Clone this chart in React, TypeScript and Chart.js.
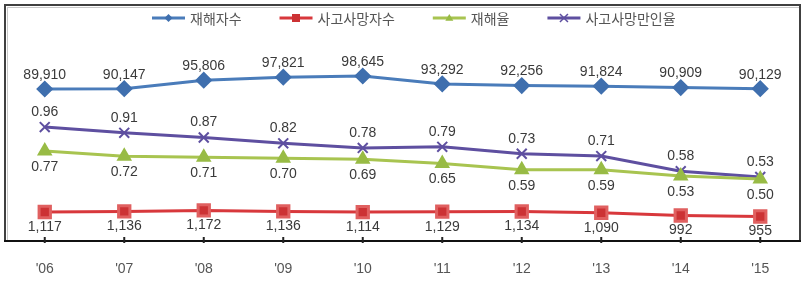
import React, { useEffect, useRef } from "react";
import { Chart, registerables } from "chart.js";

Chart.register(...registerables);

const categories = ["'06", "'07", "'08", "'09", "'10", "'11", "'12", "'13", "'14", "'15"];
const injuredCount = [89910, 90147, 95806, 97821, 98645, 93292, 92256, 91824, 90909, 90129];
const fatalCount = [1117, 1136, 1172, 1136, 1114, 1129, 1134, 1090, 992, 955];
const injuryRate = [0.77, 0.72, 0.71, 0.70, 0.69, 0.65, 0.59, 0.59, 0.53, 0.50];
const fatalRate = [0.96, 0.91, 0.87, 0.82, 0.78, 0.79, 0.73, 0.71, 0.58, 0.53];

const seriesNames = ["재해자수", "사고사망자수", "재해율", "사고사망만인율"];

const numFont = "14px 'Liberation Sans', Arial, sans-serif";
const legendFont = "14px 'Noto Sans CJK KR', sans-serif";

const fmt = (v: number, dec: number) =>
  v.toLocaleString("en-US", { minimumFractionDigits: dec, maximumFractionDigits: dec });

const labelPlugin = {
  id: "labels",
  afterDatasetsDraw(chart: any) {
    const ctx = chart.ctx;
    ctx.save();
    ctx.font = numFont;
    ctx.fillStyle = "#3a3a3a";
    ctx.textAlign = "center";
    ctx.textBaseline = "middle";
    chart.data.datasets.forEach((ds: any, i: number) => {
      const meta = chart.getDatasetMeta(i);
      meta.data.forEach((pt: any, j: number) => {
        const v = ds.data[j];
        const off = ds.labelOffset;
        ctx.fillText(fmt(v, ds.decimals), pt.x, pt.y + off);
      });
    });
    ctx.restore();
  },
};

const framePlugin = {
  id: "frame",
  beforeDatasetsDraw(chart: any) {
    const { ctx, chartArea } = chart;
    const { left, top, right, bottom } = chartArea;
    ctx.save();
    ctx.strokeStyle = "#c8c8c8";
    ctx.lineWidth = 1;
    ctx.strokeRect(left + 2.5, top + 2.5, right - left - 3, bottom - top - 3);
    ctx.strokeStyle = "#404040";
    ctx.lineWidth = 2;
    ctx.strokeRect(left, top, right - left, bottom - top);
    ctx.beginPath();
    ctx.moveTo(left - 1, bottom);
    ctx.lineTo(right + 1, bottom);
    ctx.strokeStyle = "#111";
    ctx.lineWidth = 2;
    ctx.stroke();
    const xs = chart.scales.x;
    ctx.strokeStyle = "#222";
    ctx.lineWidth = 2;
    categories.forEach((_, i) => {
      const x = xs.getPixelForValue(i);
      ctx.beginPath();
      ctx.moveTo(x, bottom - 4);
      ctx.lineTo(x, bottom + 2);
      ctx.stroke();
    });
    ctx.restore();
  },
};

const legendPlugin = {
  id: "customLegend",
  afterDraw(chart: any) {
    const ctx = chart.ctx;
    ctx.save();
    ctx.font = legendFont;
    const lineLen = 33;
    const gapText = 5;
    const gapItem = 38;
    const y = 18;
    let x = 152;
    chart.data.datasets.forEach((ds: any) => {
      ctx.strokeStyle = ds.borderColor;
      ctx.lineWidth = 3;
      ctx.beginPath();
      ctx.moveTo(x, y);
      ctx.lineTo(x + lineLen, y);
      ctx.stroke();
      const cx = x + lineLen / 2;
      ctx.fillStyle = ds.pointBackgroundColor;
      ctx.strokeStyle = ds.pointBorderColor;
      ctx.lineWidth = 1.5;
      const r = 4;
      ctx.beginPath();
      if (ds.pointStyle === "rectRot") {
        ctx.moveTo(cx, y - r); ctx.lineTo(cx + r, y); ctx.lineTo(cx, y + r); ctx.lineTo(cx - r, y); ctx.closePath();
        ctx.fill();
      } else if (ds.pointStyle === "rect") {
        ctx.rect(cx - r, y - r, 2 * r, 2 * r);
        ctx.fill();
      } else if (ds.pointStyle === "triangle") {
        ctx.moveTo(cx, y - r); ctx.lineTo(cx + r, y + r * 0.7); ctx.lineTo(cx - r, y + r * 0.7); ctx.closePath();
        ctx.fill();
      } else {
        ctx.moveTo(cx - r, y - r); ctx.lineTo(cx + r, y + r);
        ctx.moveTo(cx + r, y - r); ctx.lineTo(cx - r, y + r);
        ctx.stroke();
      }
      ctx.fillStyle = "#555";
      ctx.textAlign = "left";
      ctx.textBaseline = "middle";
      const tx = x + lineLen + gapText;
      ctx.fillText(ds.label, tx, y + 1);
      x = tx + ctx.measureText(ds.label).width + gapItem;
    });
    ctx.restore();
  },
};

export default function App() {
  const ref = useRef<HTMLCanvasElement | null>(null);

  useEffect(() => {
    if (!ref.current) return;
    const chart = new Chart(ref.current, {
      type: "line",
      data: {
        labels: categories,
        datasets: [
          {
            label: seriesNames[0],
            data: injuredCount,
            yAxisID: "yA",
            borderColor: "#4a7cba",
            backgroundColor: "#3f6fae",
            pointBackgroundColor: "#3f6fae",
            pointBorderColor: "#3f6fae",
            pointStyle: "rectRot",
            pointRadius: 6.5,
            borderWidth: 3,
            labelOffset: -14,
            decimals: 0,
          } as any,
          {
            label: seriesNames[1],
            data: fatalCount,
            yAxisID: "yB",
            borderColor: "#d8383c",
            backgroundColor: "#cc3234",
            pointBackgroundColor: "#cc3234",
            pointBorderColor: "#e06060",
            pointStyle: "rect",
            pointRadius: 8,
            borderWidth: 3,
            labelOffset: 15,
            decimals: 0,
          } as any,
          {
            label: seriesNames[2],
            data: injuryRate,
            yAxisID: "yC",
            borderColor: "#a8c450",
            backgroundColor: "#98bb45",
            pointBackgroundColor: "#98bb45",
            pointBorderColor: "#98bb45",
            pointStyle: "triangle",
            pointRadius: 6,
            borderWidth: 3,
            labelOffset: 16,
            decimals: 2,
          } as any,
          {
            label: seriesNames[3],
            data: fatalRate,
            yAxisID: "yD",
            borderColor: "#5e4fa0",
            backgroundColor: "#5e4fa0",
            pointBackgroundColor: "#5e4fa0",
            pointBorderColor: "#5e4fa0",
            pointStyle: "crossRot",
            pointRadius: 7,
            pointBorderWidth: 2,
            borderWidth: 3,
            labelOffset: -15,
            decimals: 2,
          } as any,
        ],
      },
      options: {
        responsive: false,
        animation: false,
        layout: { autoPadding: false, padding: { top: 5, left: 5, right: 2, bottom: 0 } },
        plugins: { legend: { display: false }, tooltip: { enabled: false } },
        scales: {
          x: {
            offset: true,
            grid: { display: false, drawTicks: false },
            border: { display: false },
            ticks: {
              padding: 20,
              color: "#555",
              font: { family: "'Liberation Sans', Arial, sans-serif", size: 14 },
            },
            afterFit(scale: any) {
              scale.height = 40;
            },
          },
          yA: { display: false, min: -12240, max: 146360 },
          yB: { display: false, min: 81, max: 8510 },
          yC: { display: false, min: -0.095, max: 2.174 },
          yD: { display: false, min: -0.022, max: 2.012 },
        },
      } as any,
      plugins: [framePlugin, labelPlugin, legendPlugin],
    });
    return () => chart.destroy();
  }, []);

  return (
    <div style={{ position: "absolute", left: 0, top: 0, width: 802, height: 281, background: "#fff" }}>
      <canvas ref={ref} width={802} height={281} />
    </div>
  );
}
